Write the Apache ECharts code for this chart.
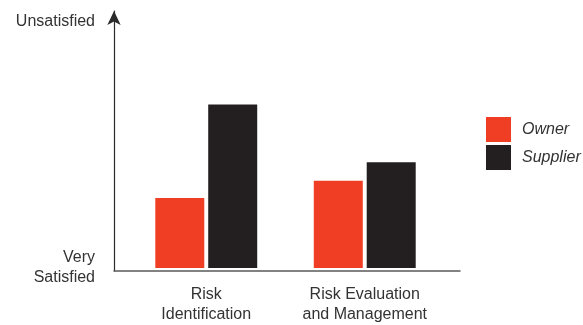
<!DOCTYPE html>
<html>
<head>
<meta charset="utf-8">
<script src="https://cdn.jsdelivr.net/npm/echarts@6/dist/echarts.min.js"></script>
<style>
  html, body { margin: 0; padding: 0; background: #fff; }
  #chart { width: 583px; height: 325px; }
</style>
</head>
<body>
<div id="chart"></div>
<script>
// Satisfaction by risk activity, 0 = very satisfied, 100 = unsatisfied
const categories = ['Risk\nIdentification', 'Risk Evaluation\nand Management'];
const ownerValues = [28.5, 35.5];
const supplierValues = [66.5, 43];
const scaleLabels = { 0: 'Very\nSatisfied', 100: 'Unsatisfied' };

const RED = '#f03e24';
const DARK = '#231f20';
const TEXT = '#333333';
const FONT = '"Liberation Sans", Arial, sans-serif';

const chart = echarts.init(document.getElementById('chart'), null, { renderer: 'canvas' });

chart.setOption({
  animation: false,
  textStyle: { fontFamily: FONT },
  legend: {
    orient: 'vertical',
    left: 486,
    top: 117,
    padding: 0,
    itemWidth: 25,
    itemHeight: 25,
    itemGap: 3,
    icon: 'rect',
    textStyle: { fontSize: 16, fontStyle: 'italic', color: TEXT, fontFamily: FONT, padding: [4, 0, 0, 6] },
    data: ['Owner', 'Supplier']
  },
  grid: [
    // bars
    { left: 127, width: 317, top: 22, bottom: 54 },
    // framing axes with arrow
    { left: 114, width: 346, top: 11, bottom: 54 }
  ],
  xAxis: [
    {
      gridIndex: 0,
      type: 'category',
      data: categories,
      axisLine: { show: false },
      axisTick: { show: false },
      axisLabel: { interval: 0, color: TEXT, fontSize: 16, lineHeight: 20, margin: 17, fontFamily: FONT }
    },
    {
      gridIndex: 1,
      type: 'value',
      min: 0, max: 1,
      axisLine: { show: true, lineStyle: { color: '#5a5a5a', width: 1.5 } },
      axisTick: { show: false },
      axisLabel: { show: false },
      splitLine: { show: false }
    }
  ],
  yAxis: [
    {
      gridIndex: 0,
      type: 'value',
      min: 0, max: 100, interval: 100,
      axisLine: { show: false },
      axisTick: { show: false },
      splitLine: { show: false },
      axisLabel: {
        color: TEXT, fontSize: 16, lineHeight: 20, margin: 32, align: 'right', fontFamily: FONT,
        formatter: v => scaleLabels[v] || ''
      }
    },
    {
      gridIndex: 1,
      type: 'value',
      min: 0, max: 1,
      axisLine: {
        show: true,
        symbol: ['none', 'arrow'],
        symbolSize: [10, 14],
        lineStyle: { color: '#2a2a2a', width: 1.2 }
      },
      axisTick: { show: false },
      axisLabel: { show: false },
      splitLine: { show: false }
    }
  ],
  series: [
    {
      name: 'Owner', type: 'bar', xAxisIndex: 0, yAxisIndex: 0,
      data: ownerValues, barWidth: 49, barGap: '8%',
      itemStyle: { color: RED }
    },
    {
      name: 'Supplier', type: 'bar', xAxisIndex: 0, yAxisIndex: 0,
      data: supplierValues, barWidth: 49, barGap: '8%',
      itemStyle: { color: DARK }
    }
  ]
});
</script>
</body>
</html>
